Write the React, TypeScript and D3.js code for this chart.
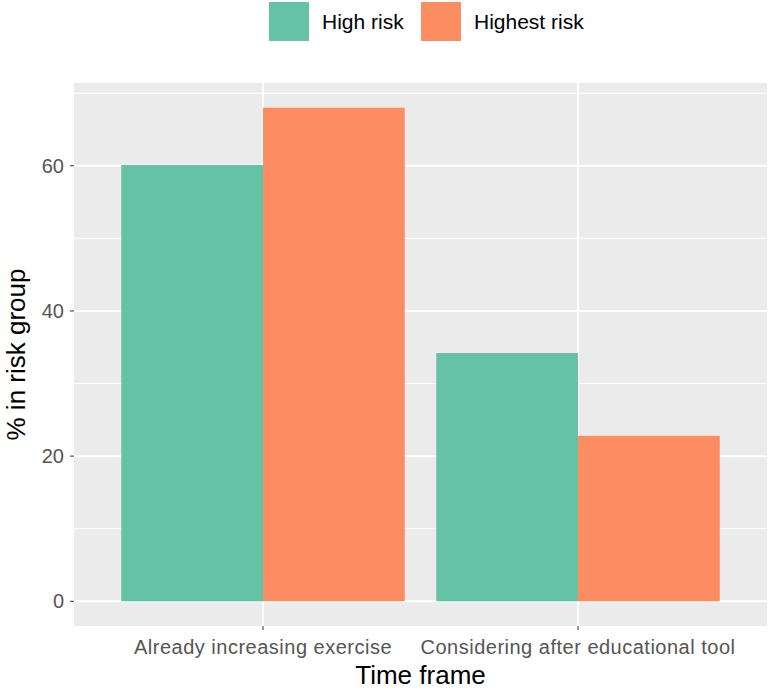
import * as d3 from 'd3';

const categories = ['Already increasing exercise', 'Considering after educational tool'];
const groups = ['High risk', 'Highest risk'];
const highRisk = [60.1, 34.2];
const highestRisk = [68.0, 22.8];
const yTicks = [0, 20, 40, 60];
const yMinor = [10, 30, 50, 70];
const colors = ['#66C2A5', '#FC8D62'];

const W = 768;
const H = 691;
const panel = { left: 74, right: 767, top: 83, bottom: 626 };

const App = () => {
  const series = [highRisk, highestRisk];
  const maxV = d3.max(series.flat()) ?? 0;

  const y = d3.scaleLinear()
    .domain([-0.05 * maxV, maxV * 1.05])
    .range([panel.bottom, panel.top]);

  // discrete positions 1..n with ggplot's 0.6 expansion
  const x = d3.scaleLinear()
    .domain([0.4, categories.length + 0.6])
    .range([panel.left, panel.right]);
  const unit = x(2) - x(1);
  const barW = unit * 0.45;

  const font = 'Liberation Sans, Arial, sans-serif';

  return (
    <svg width={W} height={H} style={{ position: 'absolute', left: 0, top: 0, background: 'white' }} fontFamily={font}>
      <rect x={panel.left} y={panel.top} width={panel.right - panel.left} height={panel.bottom - panel.top} fill="#EBEBEB" />
      {yMinor.map(v => (
        <line key={'m' + v} x1={panel.left} x2={panel.right} y1={y(v)} y2={y(v)} stroke="white" strokeWidth={1} />
      ))}
      {yTicks.map(v => (
        <line key={'g' + v} x1={panel.left} x2={panel.right} y1={y(v)} y2={y(v)} stroke="white" strokeWidth={2} />
      ))}
      {categories.map((c, i) => (
        <line key={'xg' + i} x1={x(i + 1)} x2={x(i + 1)} y1={panel.top} y2={panel.bottom} stroke="white" strokeWidth={2} />
      ))}

      {categories.map((c, i) =>
        series.map((s, j) => (
          <rect
            key={c + j}
            x={x(i + 1) - barW + j * barW}
            y={y(s[i])}
            width={barW}
            height={y(0) - y(s[i])}
            fill={colors[j]}
          />
        ))
      )}

      {yTicks.map(v => (
        <g key={'t' + v}>
          <line x1={panel.left - 4} x2={panel.left} y1={y(v)} y2={y(v)} stroke="#333" strokeWidth={1} />
          <text x={panel.left - 10} y={y(v)} dy="0.35em" textAnchor="end" fontSize={20} fill="#555">{v}</text>
        </g>
      ))}
      {categories.map((c, i) => (
        <g key={'xt' + i}>
          <line x1={x(i + 1)} x2={x(i + 1)} y1={panel.bottom} y2={panel.bottom + 4} stroke="#333" strokeWidth={1} />
          <text x={x(i + 1)} y={647} dy="0.35em" textAnchor="middle" fontSize={20} letterSpacing={0.5} fill="#555">{c}</text>
        </g>
      ))}

      <text x={(panel.left + panel.right) / 2} y={675} dy="0.35em" textAnchor="middle" fontSize={26} fill="black">Time frame</text>
      <text transform={`translate(16, ${(panel.top + panel.bottom) / 2}) rotate(-90)`} dy="0.35em" textAnchor="middle" fontSize={26} fill="black">% in risk group</text>

      {groups.map((g, j) => {
        const lx = [269, 421][j];
        return (
          <g key={g}>
            <rect x={lx} y={2} width={40} height={39} fill={colors[j]} />
            <text x={lx + 53} y={22} dy="0.35em" fontSize={21} fill="black">{g}</text>
          </g>
        );
      })}
    </svg>
  );
};

export default App;
